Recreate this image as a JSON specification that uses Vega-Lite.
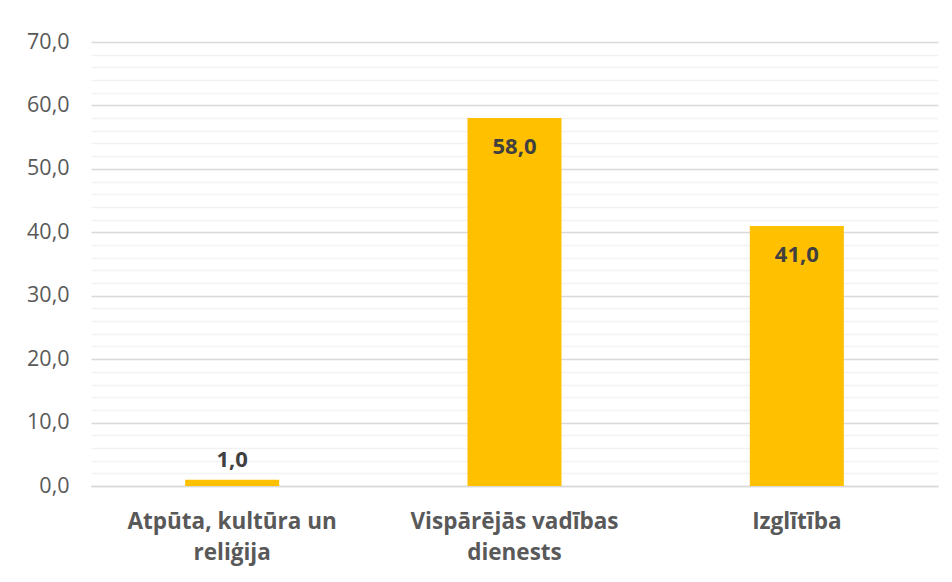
{
  "$schema": "https://vega.github.io/schema/vega-lite/v6.json",
  "width": 847,
  "height": 444,
  "autosize": {"type": "none"},
  "padding": {"left": 91, "top": 42, "right": 14, "bottom": 96},
  "background": "white",
  "config": {
    "font": "Open Sans",
    "view": {"stroke": null},
    "locale": {
      "number": {"decimal": ",", "thousands": " ", "grouping": [3], "currency": ["", " €"]}
    }
  },
  "data": {
    "values": [
      {"category": "Atpūta, kultūra un reliģija", "value": 1.0},
      {"category": "Vispārējās vadības dienests", "value": 58.0},
      {"category": "Izglītība", "value": 41.0}
    ]
  },
  "encoding": {
    "x": {
      "field": "category",
      "type": "nominal",
      "sort": null,
      "scale": {"paddingInner": 0.667, "paddingOuter": 0.3335},
      "axis": {
        "title": null,
        "labelAngle": 0,
        "labelFont": "Open Sans",
        "labelFontSize": 22.5,
        "labelFontWeight": "bold",
        "labelColor": "#595959",
        "labelPadding": 24,
        "labelLineHeight": 31,
        "labelLimit": 400,
        "labelExpr": "datum.label == 'Atpūta, kultūra un reliģija' ? ['Atpūta, kultūra un', 'reliģija'] : datum.label == 'Vispārējās vadības dienests' ? ['Vispārējās vadības', 'dienests'] : datum.label",
        "ticks": false,
        "domain": true,
        "domainColor": "#d9d9d9",
        "domainWidth": 1.5
      }
    },
    "y": {
      "field": "value",
      "type": "quantitative",
      "scale": {"domain": [0, 70], "nice": false},
      "axis": {
        "title": null,
        "values": [0, 2, 4, 6, 8, 10, 12, 14, 16, 18, 20, 22, 24, 26, 28, 30, 32, 34, 36, 38, 40, 42, 44, 46, 48, 50, 52, 54, 56, 58, 60, 62, 64, 66, 68, 70],
        "labelExpr": "datum.value % 10 === 0 ? replace(format(datum.value, '.1f'), '.', ',') : ''",
        "labelFont": "Open Sans",
        "labelFontSize": 21.5,
        "labelColor": "#595959",
        "labelPadding": 22,
        "ticks": false,
        "domain": false,
        "grid": true,
        "gridColor": {"condition": {"test": "datum.value % 10 === 0", "value": "#d9d9d9"}, "value": "#f2f2f2"},
        "gridWidth": 1.5,
        "labelOverlap": false
      }
    }
  },
  "layer": [
    {
      "mark": {"type": "bar", "color": "#FFC000"}
    },
    {
      "transform": [{"filter": "datum.value >= 5"}],
      "mark": {"type": "text", "baseline": "middle", "dy": 29, "font": "Open Sans", "fontSize": 22, "fontWeight": "bold", "color": "#404040"},
      "encoding": {"text": {"field": "value", "type": "quantitative", "format": ".1f"}}
    },
    {
      "transform": [{"filter": "datum.value < 5"}],
      "mark": {"type": "text", "baseline": "middle", "dy": -20, "font": "Open Sans", "fontSize": 22, "fontWeight": "bold", "color": "#404040"},
      "encoding": {"text": {"field": "value", "type": "quantitative", "format": ".1f"}}
    }
  ]
}
